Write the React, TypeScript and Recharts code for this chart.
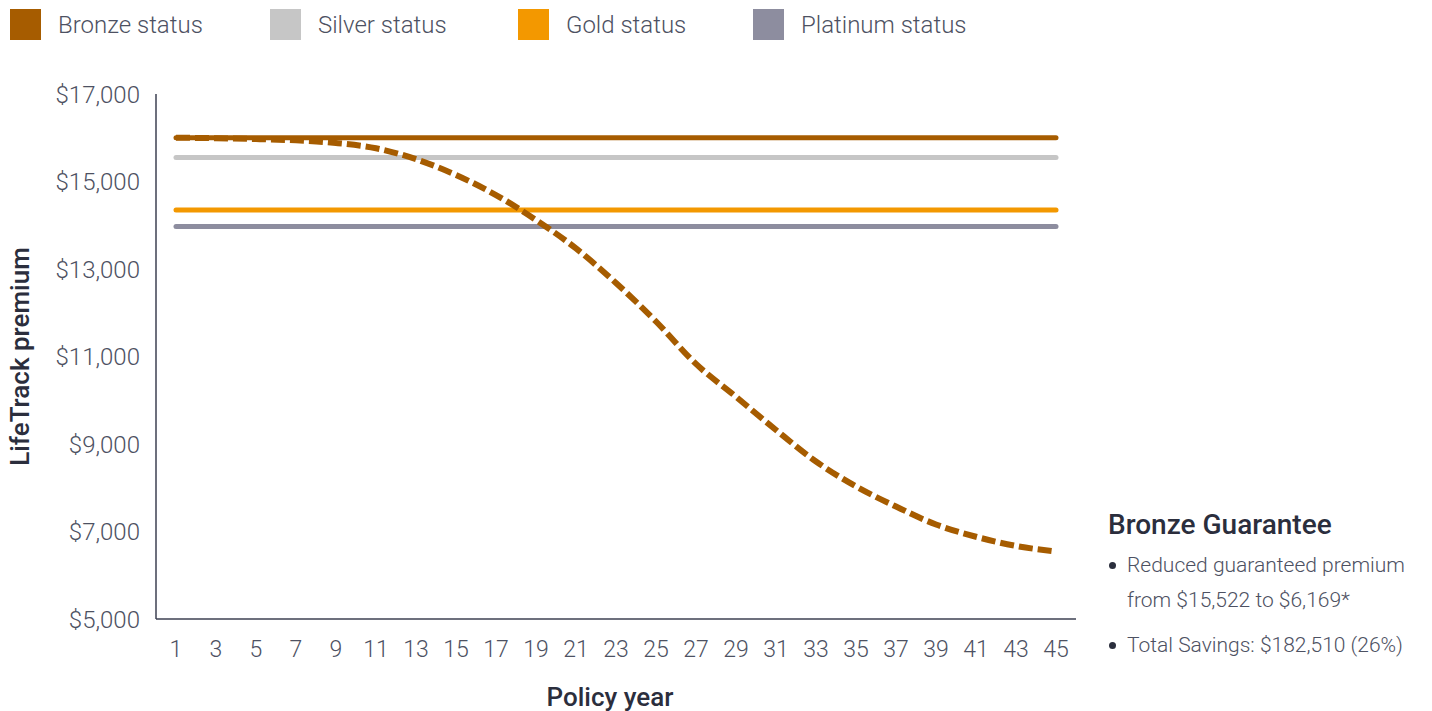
import { CartesianGrid, Label, Line, LineChart, XAxis, YAxis } from 'recharts';

const years = [1, 3, 5, 7, 9, 11, 13, 15, 17, 19, 21, 23, 25, 27, 29, 31, 33, 35, 37, 39, 41, 43, 45];
const guarantee = [
    16000, 15990, 15970, 15940, 15880, 15760, 15510, 15150, 14690, 14120, 13470, 12680, 11800, 10830, 10080, 9320,
    8600, 8030, 7570, 7160, 6880, 6670, 6540,
];
const bronzeLevel = 16000;
const silverLevel = 15550;
const goldLevel = 14350;
const platinumLevel = 13970;

const yTicks = [5000, 7000, 9000, 11000, 13000, 15000, 17000];

const series = [
    { key: 'bronze', name: 'Bronze status', color: '#a65c00' },
    { key: 'silver', name: 'Silver status', color: '#c6c6c6' },
    { key: 'gold', name: 'Gold status', color: '#f39800' },
    { key: 'platinum', name: 'Platinum status', color: '#8d8d9f' },
];

const data = years.map((year, i) => ({
    year,
    bronze: bronzeLevel,
    silver: silverLevel,
    gold: goldLevel,
    platinum: platinumLevel,
    guarantee: guarantee[i],
}));

const FONT = 'Roboto, "Noto Sans", sans-serif';
const TEXT = '#4d5162';
const DARK = '#2b2e3d';

const money = (v: number) => '$' + v.toLocaleString('en-US');

// legend slots as placed in the original layout
const legendLeft = [10, 270, 518, 753];

function YTitle({ viewBox }: any) {
    const cx = 20;
    const cy = viewBox.y + viewBox.height / 2;
    return (
        <text x={cx} y={cy} transform={`rotate(-90 ${cx} ${cy})`} textAnchor="middle" dominantBaseline="central"
            fontFamily={FONT} fontWeight={500} fontSize={26} fill={DARK}>
            LifeTrack premium
        </text>
    );
}

function XTitle({ viewBox }: any) {
    return (
        <text x={viewBox.x + viewBox.width / 2 - 6} y={697} textAnchor="middle" dominantBaseline="central"
            fontFamily={FONT} fontWeight={500} fontSize={26} fill={DARK}>
            Policy year
        </text>
    );
}

function Bullet() {
    return (
        <span style={{ width: 19, display: 'flex', alignItems: 'center', height: 35 }}>
            <span style={{ width: 7, height: 7, borderRadius: '50%', background: DARK, marginLeft: 1 }} />
        </span>
    );
}

export default function App() {
    return (
        <div style={{ position: 'relative', width: 1432, height: 711, fontFamily: FONT, background: '#fff' }}>
            <style>{'body{margin:0}'}</style>

            {/* legend */}
            {series.map((s, i) => (
                <div key={s.key} style={{ position: 'absolute', top: 9, left: legendLeft[i], display: 'flex', alignItems: 'center' }}>
                    <span style={{ width: 31, height: 31, background: s.color, display: 'inline-block' }} />
                    <span style={{ marginLeft: 17, fontSize: 24, fontWeight: 300, color: TEXT }}>{s.name}</span>
                </div>
            ))}

            <LineChart width={1432} height={711} data={data} margin={{ top: 94, right: 356, bottom: 32, left: 36 }}>
                <CartesianGrid stroke="none" />
                <XAxis dataKey="year" type="number" domain={[0, 46]} ticks={years} interval={0}
                    axisLine={{ stroke: '#3d4152', strokeWidth: 1.5 }} tickLine={false} height={60}
                    tick={{ fontSize: 23, fontWeight: 300, fill: TEXT, fontFamily: FONT }} tickMargin={16}>
                    <Label content={<XTitle />} />
                </XAxis>
                <YAxis domain={[5000, 17000]} ticks={yTicks} tickFormatter={money} width={120}
                    axisLine={{ stroke: '#3d4152', strokeWidth: 1.5 }} tickLine={false}
                    tick={{ fontSize: 24, fontWeight: 300, fill: TEXT, fontFamily: FONT }} tickMargin={10}>
                    <Label content={<YTitle />} />
                </YAxis>
                <Line dataKey="platinum" stroke="#8d8d9f" strokeWidth={5} strokeLinecap="round" dot={false} isAnimationActive={false} />
                <Line dataKey="gold" stroke="#f39800" strokeWidth={5} strokeLinecap="round" dot={false} isAnimationActive={false} />
                <Line dataKey="silver" stroke="#c6c6c6" strokeWidth={5} strokeLinecap="round" dot={false} isAnimationActive={false} />
                <Line dataKey="bronze" stroke="#a65c00" strokeWidth={5} strokeLinecap="round" dot={false} isAnimationActive={false} />
                <Line dataKey="guarantee" type="monotone" stroke="#a65c00" strokeWidth={6} strokeDasharray="14 5"
                    dot={false} isAnimationActive={false} />
            </LineChart>

            {/* annotation */}
            <div style={{ position: 'absolute', left: 1108, top: 507, color: TEXT, fontSize: 21, fontWeight: 300, lineHeight: '35px' }}>
                <div style={{ fontSize: 28, fontWeight: 500, color: DARK, marginBottom: 6 }}>Bronze Guarantee</div>
                <div style={{ display: 'flex' }}>
                    <Bullet />
                    <span>Reduced guaranteed premium<br />from $15,522 to $6,169*</span>
                </div>
                <div style={{ display: 'flex', marginTop: 10 }}>
                    <Bullet />
                    <span>Total Savings: $182,510 (26%)</span>
                </div>
            </div>
        </div>
    );
}
